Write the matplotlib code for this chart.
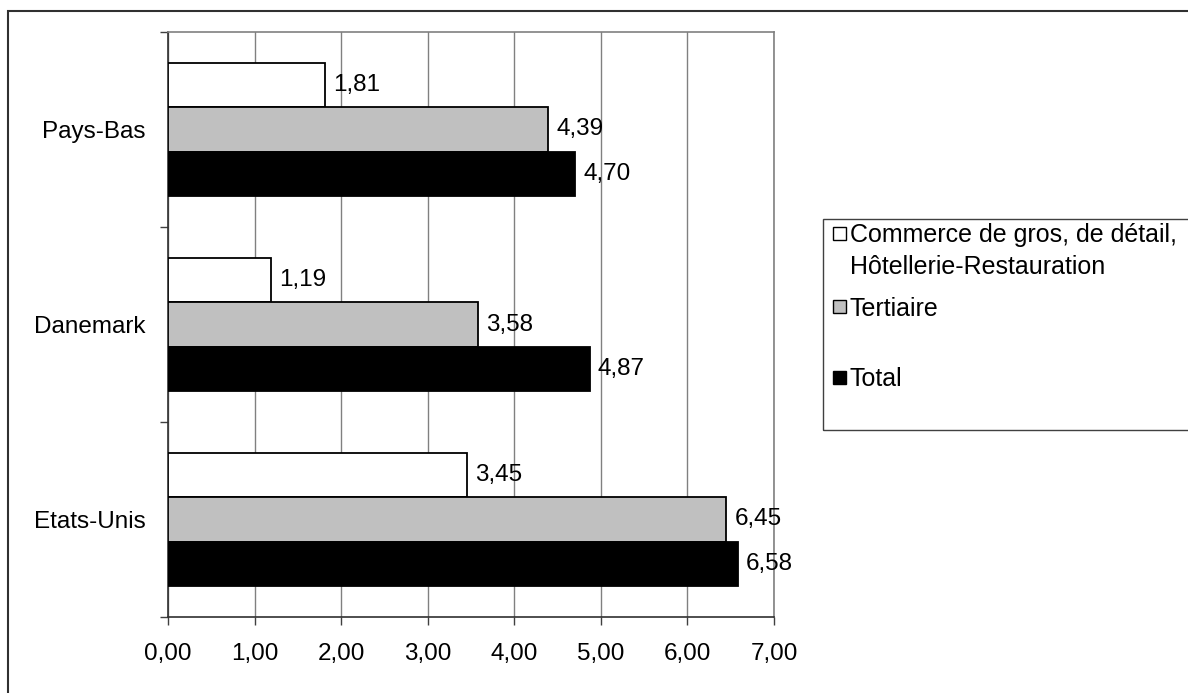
import matplotlib
matplotlib.use("Agg")
import matplotlib.pyplot as plt
from matplotlib.patches import Rectangle
from matplotlib.ticker import FixedLocator
import numpy as np

plt.rcParams['font.family'] = ['Liberation Sans', 'DejaVu Sans']

countries = ["Etats-Unis", "Danemark", "Pays-Bas"]
series_lines = [["Commerce de gros, de détail,", "Hôtellerie-Restauration"], ["Tertiaire"], ["Total"]]
commerce = [3.45, 1.19, 1.81]
tertiaire = [6.45, 3.58, 4.39]
total = [6.58, 4.87, 4.70]
xticks = [0, 1, 2, 3, 4, 5, 6, 7]
xticklabels = ["0,00", "1,00", "2,00", "3,00", "4,00", "5,00", "6,00", "7,00"]

W, H = 1188, 693
fig = plt.figure(figsize=(W / 100, H / 100), dpi=100)
ax = fig.add_axes([168 / W, 1 - 617 / H, (774 - 168) / W, (617 - 32) / H])

fs = 17.5
y = np.arange(len(countries))
bh = 0.226
colors = ["white", "#c0c0c0", "black"]
offsets = [bh, 0, -bh]
for vals, col, off in zip([commerce, tertiaire, total], colors, offsets):
    bars = ax.barh(y + off, vals, height=bh, color=col, edgecolor="black", linewidth=1.3, zorder=3)
    for b, v in zip(bars, vals):
        ax.annotate(f"{v:.2f}".replace(".", ","), (b.get_width(), b.get_y() + b.get_height() / 2),
                    xytext=(6, 0), textcoords="offset points", va="center", ha="left",
                    fontsize=fs, zorder=4)

ax.set_xlim(0, 7)
ax.set_ylim(-0.5, 2.5)
ax.set_xticks(xticks)
ax.set_xticklabels(xticklabels, fontsize=fs)
ax.set_yticks(y)
ax.set_yticklabels(countries, fontsize=fs)
ax.yaxis.set_minor_locator(FixedLocator([-0.5, 0.5, 1.5, 2.5]))
ax.tick_params(axis="y", which="major", length=0, pad=16)
ax.tick_params(axis="y", which="minor", length=6, width=1, color="#404040")
ax.tick_params(axis="x", which="major", length=6, width=1, color="#404040", pad=13)
ax.grid(axis="x", color="#808080", linewidth=1, zorder=0)
ax.set_axisbelow(True)
for side in ["top", "right"]:
    ax.spines[side].set_color("#808080")
    ax.spines[side].set_linewidth(1.2)
for side in ["left", "bottom"]:
    ax.spines[side].set_color("#303030")
    ax.spines[side].set_linewidth(1.2)

# outer chart frame (right and bottom edges beyond the image)
fig.patches.append(Rectangle((8 / W, -0.05), 1.1, 1 - 11 / H + 0.05, transform=fig.transFigure,
                             fill=False, edgecolor="#303030", linewidth=1.5))

# legend box
lx0, ly0, ly1 = 823, 219, 430
fig.patches.append(Rectangle((lx0 / W, 1 - ly1 / H), 1.1, (ly1 - ly0) / H, transform=fig.transFigure,
                             fill=False, edgecolor="#404040", linewidth=1.0))
square_centers = [233, 307, 377]
line_centers = [[235, 267], [309], [379]]
for lines, col, ys, yls in zip(series_lines, colors, square_centers, line_centers):
    fig.patches.append(Rectangle((833 / W, 1 - (ys + 6.5) / H), 13 / W, 13 / H, transform=fig.transFigure,
                                 facecolor=col, edgecolor="black", linewidth=1.0))
    for line, yl in zip(lines, yls):
        fig.text(850 / W, 1 - yl / H, line, fontsize=18, va="center", ha="left")

fig.savefig("out.png", dpi=100)
